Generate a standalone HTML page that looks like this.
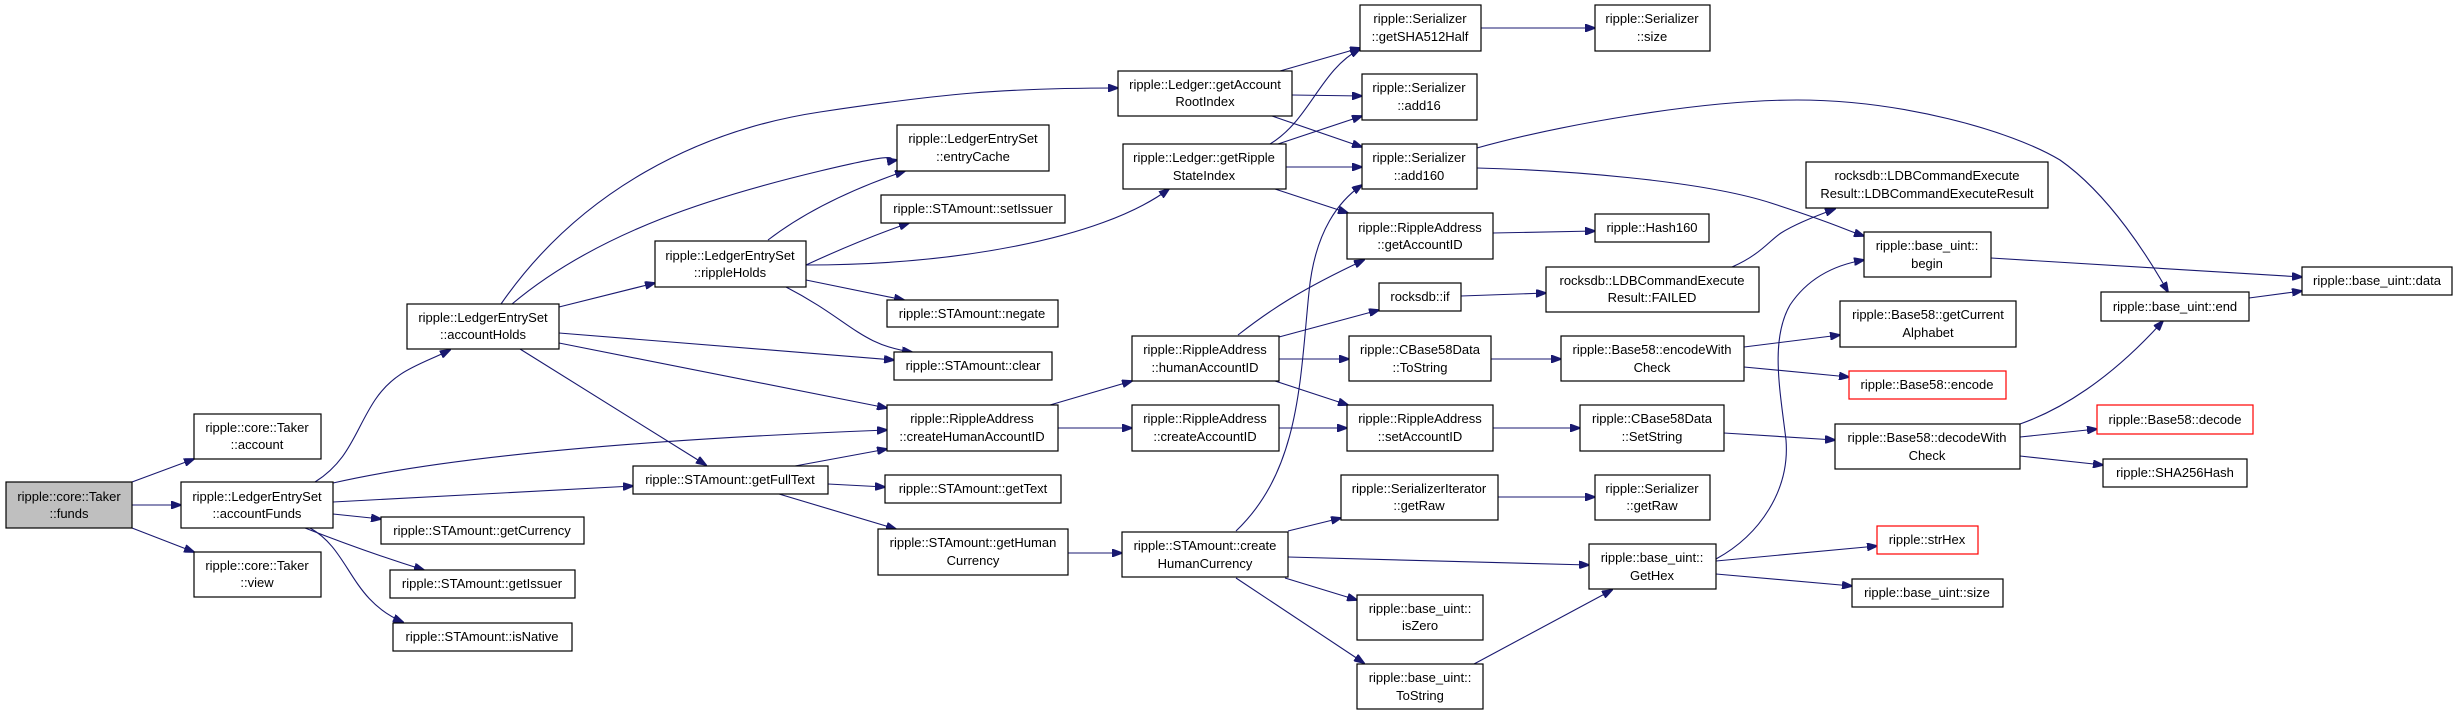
<!DOCTYPE html>
<html><head><meta charset="utf-8"><style>
html,body{margin:0;padding:0;background:#fff;}
svg{display:block;}
text{font-family:"Liberation Sans",sans-serif;font-size:13px;fill:#000;text-anchor:middle;}
rect{fill:#fff;stroke:#000;stroke-width:1.2;}
path,line{fill:none;stroke:#191970;stroke-width:1.1;}
</style></head><body>
<svg width="2453" height="715" viewBox="0 0 2453 715" xmlns="http://www.w3.org/2000/svg">
<defs><marker id="a" markerWidth="11" markerHeight="8" refX="10" refY="4" orient="auto" markerUnits="userSpaceOnUse"><polygon points="0,0 11,4 0,8" fill="#191970" stroke="#191970"/></marker></defs>
<g marker-end="url(#a)">
<path d="M132,482 L194,459"/>
<path d="M132,505 L181,505"/>
<path d="M132,528 L194,552"/>
<path d="M315,482 C350,460 355,430 375,400 S420,365 450,350"/>
<path d="M333,483 Q500,445 887,430"/>
<path d="M333,502 L633,486"/>
<path d="M333,514 L381,519"/>
<path d="M305,528 Q366,552 424,570"/>
<path d="M310,528 C350,550 350,600 403,622"/>
<path d="M501,304 C580,190 700,130 820,112 S1000,88 1118,88"/>
<path d="M512,304 C600,230 720,195 820,171 S880,163 897,160"/>
<path d="M559,307 L655,283"/>
<path d="M559,333 L894,360"/>
<path d="M559,343 L887,408"/>
<path d="M520,349 L706,465"/>
<path d="M768,240 Q820,200 905,171"/>
<path d="M806,265 Q860,240 909,223"/>
<path d="M806,265 C950,265 1100,240 1169,189"/>
<path d="M806,280 L904,300"/>
<path d="M786,287 C850,320 860,345 912,352"/>
<path d="M795,466 L887,449"/>
<path d="M828,484 L885,487"/>
<path d="M779,494 L896,529"/>
<path d="M1050,405 L1132,381"/>
<path d="M1058,428 L1132,428"/>
<path d="M1068,553 L1122,553"/>
<path d="M1280,71 L1360,48"/>
<path d="M1292,95 L1362,96"/>
<path d="M1272,116 L1362,147"/>
<path d="M1270,144 C1310,120 1320,70 1360,49"/>
<path d="M1278,144 L1362,116"/>
<path d="M1286,167 L1362,167"/>
<path d="M1275,189 L1348,213"/>
<path d="M1481,28 L1595,28"/>
<path d="M1477,148 C1560,125 1700,100 1797,100 C1900,100 2010,130 2060,160 C2110,195 2150,260 2168,292"/>
<path d="M1477,168 C1560,170 1700,180 1771,203 S1840,228 1864,236"/>
<path d="M1238,335 C1270,310 1300,290 1364,260"/>
<path d="M1279,337 L1379,310"/>
<path d="M1279,359 L1349,359"/>
<path d="M1275,381 L1348,405"/>
<path d="M1279,428 L1347,428"/>
<path d="M1493,233 L1595,231"/>
<path d="M1461,296 L1546,293"/>
<path d="M1732,267 C1760,255 1770,240 1781,233 S1810,218 1835,209"/>
<path d="M1491,359 L1561,359"/>
<path d="M1744,347 L1840,335"/>
<path d="M1744,367 L1849,377"/>
<path d="M1493,428 L1580,428"/>
<path d="M1724,433 L1835,440"/>
<path d="M2020,424 C2060,410 2110,380 2163,321"/>
<path d="M2020,437 L2097,429"/>
<path d="M2020,456 L2103,465"/>
<path d="M1236,531 C1300,470 1300,380 1309,292 C1315,230 1340,200 1362,185"/>
<path d="M1288,531 L1341,518"/>
<path d="M1288,557 L1589,565"/>
<path d="M1285,578 L1357,600"/>
<path d="M1236,578 L1364,663"/>
<path d="M1498,497 L1595,497"/>
<path d="M1474,664 L1612,590"/>
<path d="M1716,559 C1760,535 1790,490 1786,440 C1780,390 1770,340 1790,305 C1810,275 1840,264 1864,260"/>
<path d="M1716,561 L1877,546"/>
<path d="M1716,574 L1852,586"/>
<path d="M1991,258 L2302,277"/>
<path d="M2249,298 L2302,291"/>
</g>
<g>
<rect x="6" y="482" width="126" height="46" style="fill:#bfbfbf"/><text x="69" y="501">ripple::core::Taker</text><text x="69" y="518">::funds</text>
<rect x="194" y="414" width="127" height="45"/><text x="257" y="432">ripple::core::Taker</text><text x="257" y="449">::account</text>
<rect x="181" y="482" width="152" height="46"/><text x="257" y="501">ripple::LedgerEntrySet</text><text x="257" y="518">::accountFunds</text>
<rect x="194" y="552" width="127" height="45"/><text x="257" y="570">ripple::core::Taker</text><text x="257" y="587">::view</text>
<rect x="407" y="304" width="152" height="45"/><text x="483" y="322">ripple::LedgerEntrySet</text><text x="483" y="339">::accountHolds</text>
<rect x="381" y="517" width="203" height="27"/><text x="482" y="535">ripple::STAmount::getCurrency</text>
<rect x="390" y="570" width="185" height="28"/><text x="482" y="588">ripple::STAmount::getIssuer</text>
<rect x="393" y="623" width="179" height="28"/><text x="482" y="641">ripple::STAmount::isNative</text>
<rect x="655" y="241" width="151" height="46"/><text x="730" y="260">ripple::LedgerEntrySet</text><text x="730" y="277">::rippleHolds</text>
<rect x="633" y="466" width="195" height="28"/><text x="730" y="484">ripple::STAmount::getFullText</text>
<rect x="1360" y="5" width="121" height="46"/><text x="1420" y="23">ripple::Serializer</text><text x="1420" y="41">::getSHA512Half</text>
<rect x="1595" y="5" width="115" height="46"/><text x="1652" y="23">ripple::Serializer</text><text x="1652" y="41">::size</text>
<rect x="1118" y="71" width="174" height="45"/><text x="1205" y="89">ripple::Ledger::getAccount</text><text x="1205" y="106">RootIndex</text>
<rect x="1362" y="74" width="115" height="46"/><text x="1419" y="92">ripple::Serializer</text><text x="1419" y="110">::add16</text>
<rect x="897" y="125" width="152" height="46"/><text x="973" y="143">ripple::LedgerEntrySet</text><text x="973" y="161">::entryCache</text>
<rect x="1123" y="144" width="163" height="45"/><text x="1204" y="162">ripple::Ledger::getRipple</text><text x="1204" y="180">StateIndex</text>
<rect x="1362" y="144" width="115" height="45"/><text x="1419" y="162">ripple::Serializer</text><text x="1419" y="180">::add160</text>
<rect x="881" y="195" width="184" height="28"/><text x="973" y="213">ripple::STAmount::setIssuer</text>
<rect x="1347" y="213" width="146" height="46"/><text x="1420" y="232">ripple::RippleAddress</text><text x="1420" y="249">::getAccountID</text>
<rect x="1595" y="214" width="114" height="28"/><text x="1652" y="232">ripple::Hash160</text>
<rect x="887" y="300" width="171" height="27"/><text x="972" y="318">ripple::STAmount::negate</text>
<rect x="1379" y="283" width="82" height="28"/><text x="1420" y="301">rocksdb::if</text>
<rect x="1546" y="267" width="213" height="45"/><text x="1652" y="285">rocksdb::LDBCommandExecute</text><text x="1652" y="302">Result::FAILED</text>
<rect x="894" y="352" width="158" height="28"/><text x="973" y="370">ripple::STAmount::clear</text>
<rect x="1132" y="336" width="147" height="45"/><text x="1205" y="354">ripple::RippleAddress</text><text x="1205" y="372">::humanAccountID</text>
<rect x="1349" y="336" width="142" height="45"/><text x="1420" y="354">ripple::CBase58Data</text><text x="1420" y="372">::ToString</text>
<rect x="1561" y="336" width="183" height="45"/><text x="1652" y="354">ripple::Base58::encodeWith</text><text x="1652" y="372">Check</text>
<rect x="887" y="405" width="171" height="46"/><text x="972" y="423">ripple::RippleAddress</text><text x="972" y="441">::createHumanAccountID</text>
<rect x="1132" y="405" width="147" height="46"/><text x="1205" y="423">ripple::RippleAddress</text><text x="1205" y="441">::createAccountID</text>
<rect x="1347" y="405" width="146" height="46"/><text x="1420" y="423">ripple::RippleAddress</text><text x="1420" y="441">::setAccountID</text>
<rect x="1580" y="405" width="144" height="46"/><text x="1652" y="423">ripple::CBase58Data</text><text x="1652" y="441">::SetString</text>
<rect x="885" y="475" width="176" height="28"/><text x="973" y="493">ripple::STAmount::getText</text>
<rect x="1341" y="475" width="157" height="45"/><text x="1419" y="493">ripple::SerializerIterator</text><text x="1419" y="510">::getRaw</text>
<rect x="1595" y="475" width="115" height="45"/><text x="1652" y="493">ripple::Serializer</text><text x="1652" y="510">::getRaw</text>
<rect x="878" y="529" width="190" height="46"/><text x="973" y="547">ripple::STAmount::getHuman</text><text x="973" y="565">Currency</text>
<rect x="1122" y="532" width="166" height="45"/><text x="1205" y="550">ripple::STAmount::create</text><text x="1205" y="568">HumanCurrency</text>
<rect x="1589" y="544" width="127" height="45"/><text x="1652" y="562">ripple::base_uint::</text><text x="1652" y="580">GetHex</text>
<rect x="1357" y="595" width="126" height="45"/><text x="1420" y="613">ripple::base_uint::</text><text x="1420" y="630">isZero</text>
<rect x="1357" y="664" width="126" height="45"/><text x="1420" y="682">ripple::base_uint::</text><text x="1420" y="700">ToString</text>
<rect x="1806" y="162" width="242" height="46"/><text x="1927" y="180">rocksdb::LDBCommandExecute</text><text x="1927" y="198">Result::LDBCommandExecuteResult</text>
<rect x="1864" y="232" width="127" height="45"/><text x="1927" y="250">ripple::base_uint::</text><text x="1927" y="268">begin</text>
<rect x="2302" y="267" width="150" height="28"/><text x="2377" y="285">ripple::base_uint::data</text>
<rect x="2101" y="292" width="148" height="29"/><text x="2175" y="311">ripple::base_uint::end</text>
<rect x="1840" y="301" width="176" height="46"/><text x="1928" y="319">ripple::Base58::getCurrent</text><text x="1928" y="337">Alphabet</text>
<rect x="1849" y="371" width="157" height="28" style="stroke:#f00"/><text x="1927" y="389">ripple::Base58::encode</text>
<rect x="2097" y="405" width="156" height="29" style="stroke:#f00"/><text x="2175" y="424">ripple::Base58::decode</text>
<rect x="1835" y="424" width="185" height="45"/><text x="1927" y="442">ripple::Base58::decodeWith</text><text x="1927" y="460">Check</text>
<rect x="2103" y="459" width="144" height="28"/><text x="2175" y="477">ripple::SHA256Hash</text>
<rect x="1877" y="526" width="101" height="28" style="stroke:#f00"/><text x="1927" y="544">ripple::strHex</text>
<rect x="1852" y="579" width="151" height="28"/><text x="1927" y="597">ripple::base_uint::size</text>
</g>
</svg>
</body></html>
